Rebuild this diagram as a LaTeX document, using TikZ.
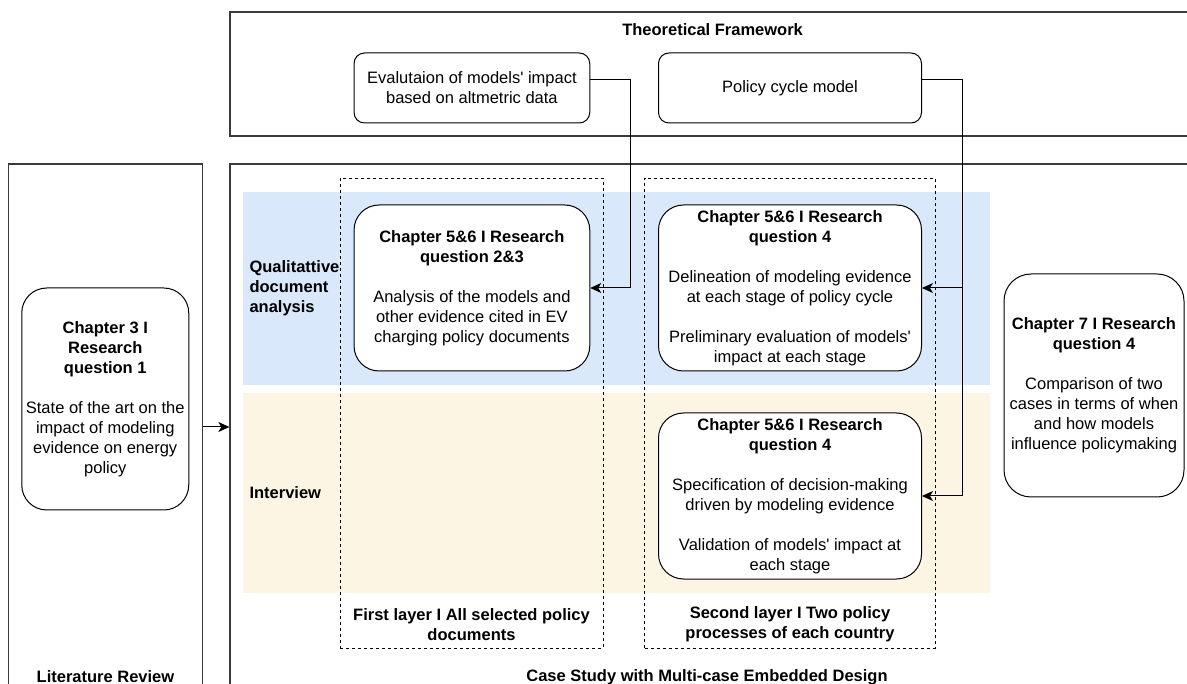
\documentclass[tikz,border=0pt]{standalone}
\usepackage{fontspec}
\setmainfont{Liberation Sans}
\usetikzlibrary{arrows.meta}
\definecolor{bandblue}{HTML}{DAE8FC}
\definecolor{bandyellow}{HTML}{FDF5E3}
\definecolor{framegray}{HTML}{3A3A3A}
\begin{document}
\begin{tikzpicture}[x=1pt,y=-1pt,
  every node/.style={font=\fontsize{16.5}{20}\selectfont},
  frame/.style={draw=framegray, line width=1.3pt, inner sep=0pt},
  band/.style={inner sep=0pt, draw=none},
  layer/.style={draw=black, line width=0.9pt, dash pattern=on 3pt off 3pt, inner sep=0pt},
  rbox/.style={draw=black, line width=1pt, fill=white, align=center, inner sep=0pt},
  ttl/.style={font=\fontsize{16.5}{20}\selectfont\bfseries, align=center},
  link/.style={draw=black, line width=1pt, -{Stealth[length=11pt,width=10pt,inset=3pt]}},
]
\useasboundingbox (0,0) rectangle (1187,684);
% containers
\node[frame, minimum width=965pt, minimum height=124pt] (tf) at (712.5,74) {};
\node[frame, minimum width=194.3pt, minimum height=526pt] (lit) at (105.5,427) {};
\node[frame, minimum width=965pt, minimum height=526pt] (cs) at (712.5,427) {};
% bands
\node[band, fill=bandblue, minimum width=747pt, minimum height=193pt] (qband) at (616.5,288.5) {};
\node[band, fill=bandyellow, minimum width=747pt, minimum height=200pt] (iband) at (616.5,493) {};
% layers
\node[layer, minimum width=263pt, minimum height=470pt] (l1) at (471.5,413) {};
\node[layer, minimum width=290.3pt, minimum height=470pt] (l2) at (789.85,413) {};
% titles and labels
\node[ttl] (tft) at (712.6,30) {Theoretical Framework};
\node[ttl] (litt) at (105.5,677) {Literature Review};
\node[ttl] (cst) at (707,677) {Case Study with Multi-case Embedded Design};
\node[ttl, align=left, anchor=west] (qlab) at (246,288) {Qualitattive\\document\\analysis};
\node[ttl, anchor=west] (ilab) at (246,493) {Interview};
\node[ttl] (l1t) at (471.5,624.5) {First layer I All selected policy\\documents};
\node[ttl] (l2t) at (790,624.5) {Second layer I Two policy\\processes of each country};
% boxes
\node[rbox, rounded corners=10.5pt, minimum width=235.7pt, minimum height=70pt] (eval) at (471.9,88)
  {Evalutaion of models\textquotesingle{} impact\\based on altmetric data};
\node[rbox, rounded corners=10.5pt, minimum width=263pt, minimum height=70pt] (pcm) at (790,88)
  {Policy cycle model};
\node[rbox, rounded corners=25pt, minimum width=235.7pt, minimum height=166pt] (c23) at (471.9,288)
  {\textbf{Chapter 5\&6 I Research}\\\textbf{question 2\&3}\\[20pt]Analysis of the models and\\other evidence cited in EV\\charging policy documents};
\node[rbox, rounded corners=25pt, minimum width=263pt, minimum height=166pt] (c4a) at (790,288)
  {\textbf{Chapter 5\&6 I Research}\\\textbf{question 4}\\[20pt]Delineation of modeling evidence\\at each stage of policy cycle\\[20pt]Preliminary evaluation of models\textquotesingle\\impact at each stage};
\node[rbox, rounded corners=25pt, minimum width=263pt, minimum height=166pt] (c4b) at (790,496)
  {\textbf{Chapter 5\&6 I Research}\\\textbf{question 4}\\[20pt]Specification of decision-making\\driven by modeling evidence\\[20pt]Validation of models\textquotesingle{} impact at\\each stage};
\node[rbox, rounded corners=25pt, minimum width=167pt, minimum height=222pt] (c3) at (105.25,399)
  {\textbf{Chapter 3 I}\\\textbf{Research}\\\textbf{question 1}\\[20pt]State of the art on the\\impact of modeling\\evidence on energy\\policy};
\node[rbox, rounded corners=27pt, minimum width=180pt, minimum height=223pt] (c7) at (1094,385.5)
  {\textbf{Chapter 7 I Research}\\\textbf{question 4}\\[20pt]Comparison of two\\cases in terms of when\\and how models\\influence policymaking};
% connectors
\coordinate (j1) at (630.3,80);
\coordinate (j2) at (962.5,80);
\draw[link] ([yshift=8pt]eval.east) -- (j1) |- (c23.east);
\draw[link] ([yshift=8pt]pcm.east) -- (j2) |- (c4a.east);
\draw[link] (j2) |- (c4b.east);
\draw[link] (lit.east) -- (cs.west);
\end{tikzpicture}
\end{document}
